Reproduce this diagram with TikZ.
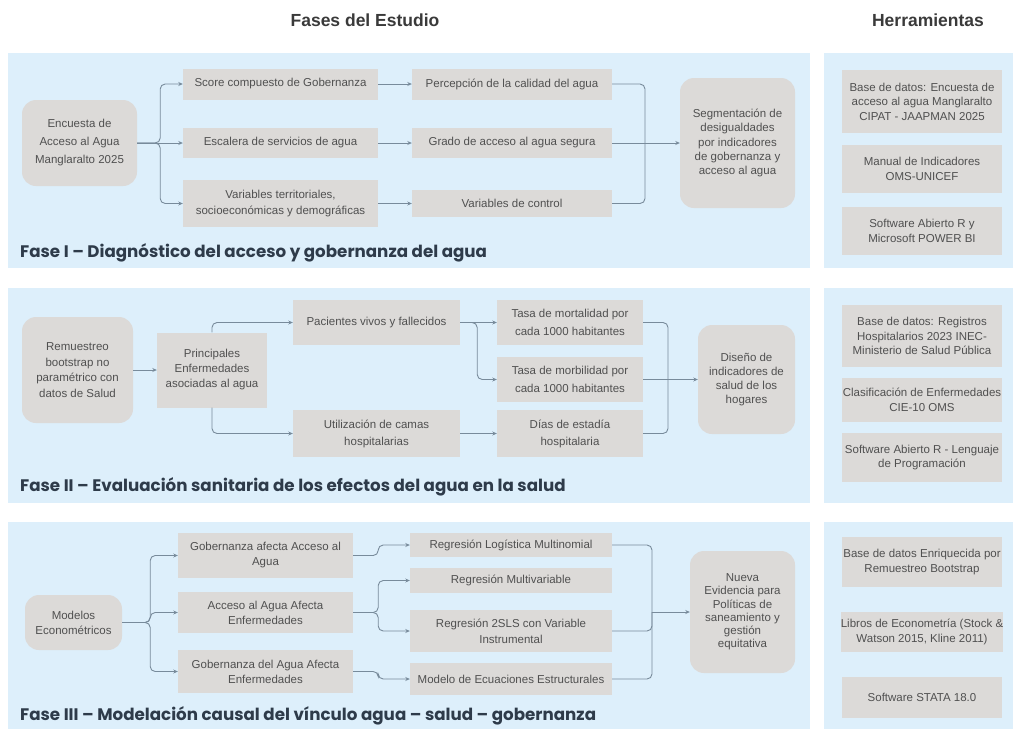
\documentclass[tikz,border=0pt]{standalone}
\usepackage{fontspec}
\setmainfont{Liberation Sans}
\newfontfamily\ttlfont{Poppins}
\usetikzlibrary{arrows.meta}
\definecolor{panelc}{HTML}{DDEFFB}
\definecolor{boxc}{HTML}{DCDAD8}
\definecolor{linec}{HTML}{788B9B}
\definecolor{txtc}{HTML}{505050}
\definecolor{ttlc}{HTML}{2E3B4A}
\definecolor{hdrc}{HTML}{3A3A3A}
\begin{document}
\begin{tikzpicture}[x=1pt,y=-1pt,
 bx/.style={fill=boxc, draw=none, text=txtc, align=center, inner sep=0pt, font=\fontsize{11.5}{15}\selectfont},
 rbx/.style={bx, rounded corners=14pt},
 conn/.style={draw=linec, line width=0.9pt, rounded corners=5pt, -{Stealth[length=4.5pt,width=4pt]}},
 link/.style={draw=linec, line width=0.9pt, rounded corners=5pt},
 ttl/.style={anchor=west, text=ttlc, font=\ttlfont\bfseries\fontsize{16.7}{20}\selectfont, inner sep=0pt},
 hdr/.style={text=hdrc, inner sep=0pt, font=\bfseries\fontsize{17.5}{20}\selectfont},
]
\useasboundingbox (0,0) rectangle (1016,729);
\fill[white] (0,0) rectangle (1016,729);

% headers
\node[hdr] (h1) at (365,20) {Fases del Estudio};
\node[hdr] (h2) at (928,20) {Herramientas};

% panels
\fill[panelc] (8,53) rectangle (810,268);
\fill[panelc] (824,53) rectangle (1013,268);
\fill[panelc] (8,288) rectangle (810,503);
\fill[panelc] (824,288) rectangle (1013,503);
\fill[panelc] (8,522) rectangle (810,729);
\fill[panelc] (824,522) rectangle (1013,729);

% ---------------- Phase I
\node[rbx, minimum width=115, minimum height=86, font=\fontsize{11.5}{18}\selectfont] (enc) at (79.5,143) {Encuesta de\\Acceso al Agua\\Manglaralto 2025};
\node[bx, minimum width=195, minimum height=31] (score) at (280.5,84) {Score compuesto de Gobernanza};
\node[bx, minimum width=195, minimum height=30] (escalera) at (280.5,143) {Escalera de servicios de agua};
\node[bx, minimum width=195, minimum height=47, font=\fontsize{11.5}{16.5}\selectfont] (variables) at (280.5,203.5) {Variables territoriales,\\socioeconómicas y demográficas};
\node[bx, minimum width=200, minimum height=31] (percep) at (512,84) {Percepción de la calidad del agua};
\node[bx, minimum width=200, minimum height=30] (grado) at (512,143) {Grado de acceso al agua segura};
\node[bx, minimum width=200, minimum height=27] (vcontrol) at (512,203.5) {Variables de control};
\node[rbx, minimum width=115, minimum height=130, font=\fontsize{11.5}{14.3}\selectfont] (seg) at (737.5,143) {Segmentación de\\desigualdades\\por indicadores\\de gobernanza y\\acceso al agua};

\draw[conn] (enc.east) -- ++(23,0) |- (score.west);
\draw[conn] (enc.east) -- (escalera.west);
\draw[conn] (enc.east) -- ++(23,0) |- (variables.west);
\draw[conn] (score.east) -- (percep.west);
\draw[conn] (escalera.east) -- (grado.west);
\draw[conn] (variables.east) -- (vcontrol.west);
\coordinate (m1) at (645,143);
\draw[link] (percep.east) -| (m1);
\draw[link] (vcontrol.east) -| (m1);
\draw[conn] (grado.east) -- (seg.west);

\node[ttl] (t1) at (20,253) {Fase I – Diagnóstico del acceso y gobernanza del agua};

\node[bx, minimum width=160, minimum height=63, font=\fontsize{11.5}{14.5}\selectfont] (ta1) at (922,101.5) {Base de datos: Encuesta de\\acceso al agua Manglaralto\\CIPAT - JAAPMAN 2025};
\node[bx, minimum width=160, minimum height=48, font=\fontsize{11.5}{14.5}\selectfont] (tb1) at (922,169) {Manual de Indicadores\\OMS-UNICEF};
\node[bx, minimum width=160, minimum height=48, font=\fontsize{11.5}{14.5}\selectfont] (tc1) at (922,231) {Software Abierto R y\\Microsoft POWER BI};

% ---------------- Phase II
\node[rbx, minimum width=111, minimum height=106, font=\fontsize{11.5}{15.5}\selectfont] (rem) at (77.5,370) {Remuestreo\\bootstrap no\\paramétrico con\\datos de Salud};
\node[bx, minimum width=110, minimum height=75] (princ) at (212,370) {Principales\\Enfermedades\\asociadas al agua};
\node[bx, minimum width=167, minimum height=45] (pac) at (376.5,322.5) {Pacientes vivos y fallecidos};
\node[bx, minimum width=167, minimum height=47, font=\fontsize{11.5}{17}\selectfont] (util) at (376.5,433.5) {Utilización de camas\\hospitalarias};
\node[bx, minimum width=146, minimum height=45, font=\fontsize{11.5}{17.5}\selectfont] (tmort) at (570,322.5) {Tasa de mortalidad por\\cada 1000 habitantes};
\node[bx, minimum width=146, minimum height=45, font=\fontsize{11.5}{17.5}\selectfont] (tmorb) at (570,379.5) {Tasa de morbilidad por\\cada 1000 habitantes};
\node[bx, minimum width=146, minimum height=47, font=\fontsize{11.5}{17}\selectfont] (dias) at (570,433.5) {Días de estadía\\hospitalaria};
\node[rbx, minimum width=97, minimum height=109, font=\fontsize{11.5}{14.3}\selectfont] (dis) at (746.5,379.5) {Diseño de\\indicadores de\\salud de los\\hogares};

\draw[conn] (rem.east) -- (princ.west);
\draw[conn] (princ.north) |- (pac.west);
\draw[conn] (princ.south) |- (util.west);
\draw[conn] (pac.east) -- (tmort.west);
\draw[conn] (pac.east) -- ++(17,0) |- (tmorb.west);
\draw[conn] (util.east) -- (dias.west);
\coordinate (m2) at (668,379.5);
\draw[link] (tmort.east) -| (m2);
\draw[link] (dias.east) -| (m2);
\draw[conn] (tmorb.east) -- (dis.west);

\node[ttl] (t2) at (20,487) {Fase II – Evaluación sanitaria de los efectos del agua en la salud};

\node[bx, minimum width=160, minimum height=62, font=\fontsize{11.5}{14.5}\selectfont] (ta2) at (922,336) {Base de datos: Registros\\Hospitalarios 2023 INEC-\\Ministerio de Salud Pública};
\node[bx, minimum width=160, minimum height=44, font=\fontsize{11.5}{14.5}\selectfont] (tb2) at (922,400) {Clasificación de Enfermedades\\CIE-10 OMS};
\node[bx, minimum width=160, minimum height=49, font=\fontsize{11.5}{14.5}\selectfont] (tc2) at (922,457.5) {Software Abierto R - Lenguaje\\de Programación};

% ---------------- Phase III
\node[rbx, minimum width=97, minimum height=55] (mod) at (73.5,622.5) {Modelos\\Econométricos};
\node[bx, minimum width=175, minimum height=45] (gaa) at (265.5,555.5) {Gobernanza afecta Acceso al\\Agua};
\node[bx, minimum width=175, minimum height=41] (aae) at (265.5,612.5) {Acceso al Agua Afecta\\Enfermedades};
\node[bx, minimum width=175, minimum height=43] (gae) at (265.5,671.5) {Gobernanza del Agua Afecta\\Enfermedades};
\node[bx, minimum width=202, minimum height=24] (rlm) at (511,545) {Regresión Logística Multinomial};
\node[bx, minimum width=202, minimum height=25] (rmv) at (511,580.5) {Regresión Multivariable};
\node[bx, minimum width=202, minimum height=42, font=\fontsize{11.5}{16}\selectfont] (r2s) at (511,631) {Regresión 2SLS con Variable\\Instrumental};
\node[bx, minimum width=202, minimum height=32] (mee) at (511,679) {Modelo de Ecuaciones Estructurales};
\node[rbx, minimum width=105, minimum height=122, font=\fontsize{11.5}{13.2}\selectfont] (nue) at (742.5,612) {Nueva\\Evidencia para\\Políticas de\\saneamiento y\\gestión\\equitativa};

\draw[conn] (mod.east) -- ++(28,0) |- (gaa.west);
\draw[conn] (mod.east) -- ++(28,0) |- (aae.west);
\draw[conn] (mod.east) -- ++(28,0) |- (gae.west);
\draw[conn] (gaa.east) -- ++(25,0) |- (rlm.west);
\draw[conn] (aae.east) -- ++(25,0) |- (rmv.west);
\draw[conn] (aae.east) -- ++(25,0) |- (r2s.west);
\draw[conn] (gae.east) -- ++(25,0) |- (mee.west);
\coordinate (m3) at (652,612);
\draw[link] (rlm.east) -| (m3);
\draw[link] (r2s.east) -| (m3);
\draw[link] (mee.east) -| (m3);
\draw[conn] (m3) -- (nue.west);

\node[ttl] (t3) at (20,716) {Fase III – Modelación causal del vínculo agua – salud – gobernanza};

\node[bx, minimum width=160, minimum height=50, font=\fontsize{11.5}{14.5}\selectfont] (ta3) at (922,562) {Base de datos Enriquecida por\\Remuestreo Bootstrap};
\node[bx, minimum width=160, minimum height=40, font=\fontsize{11.5}{14.5}\selectfont] (tb3) at (922,632) {Libros de Econometría (Stock \&\\Watson 2015, Kline 2011)};
\node[bx, minimum width=160, minimum height=41, font=\fontsize{11.5}{14.5}\selectfont] (tc3) at (922,697.5) {Software STATA 18.0};
\end{tikzpicture}
\end{document}
